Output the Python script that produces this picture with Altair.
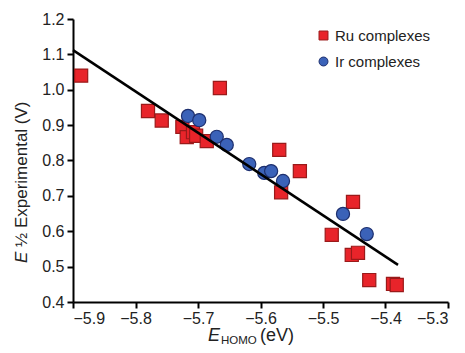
import altair as alt
import pandas as pd

# Data
ru_x = [-5.887, -5.780, -5.758, -5.725, -5.718, -5.708, -5.703, -5.686, -5.665,
        -5.570, -5.537, -5.567, -5.452, -5.486, -5.454, -5.444, -5.426, -5.388, -5.382]
ru_y = [1.040, 0.940, 0.913, 0.895, 0.866, 0.880, 0.870, 0.855, 1.005,
        0.830, 0.770, 0.710, 0.683, 0.590, 0.533, 0.539, 0.462, 0.451, 0.448]

ir_x = [-5.716, -5.698, -5.670, -5.654, -5.618, -5.594, -5.583, -5.564, -5.468, -5.430]
ir_y = [0.926, 0.914, 0.867, 0.844, 0.790, 0.765, 0.770, 0.742, 0.649, 0.592]

fit_x = [-5.90, -5.38]
fit_y = [1.112, 0.505]

series_names = ["Ru complexes", "Ir complexes"]
x_ticks = [-5.9, -5.8, -5.7, -5.6, -5.5, -5.4, -5.3]
y_ticks = [0.4, 0.5, 0.6, 0.7, 0.8, 0.9, 1.0, 1.1, 1.2]

FONT = "Liberation Sans"

pts = pd.DataFrame({
    "x": ru_x + ir_x,
    "y": ru_y + ir_y,
    "type": [series_names[0]] * len(ru_x) + [series_names[1]] * len(ir_x),
    "order": [0] * len(ru_x) + [1] * len(ir_x),
})
fit = pd.DataFrame({"x": fit_x, "y": fit_y})

xs = alt.Scale(domain=[-5.9, -5.3], nice=False, zero=False)
ys = alt.Scale(domain=[0.4, 1.2], nice=False, zero=False)

xaxis = alt.Axis(values=x_ticks, format=".1f", title=None, labelOverlap=False, tickCount=7,
                 labelPadding=2)
yaxis = alt.Axis(values=y_ticks, format=".1f", title=None, labelOverlap=False, tickCount=9)

leg = alt.Legend(title=None, orient="none", legendX=243, legendY=9)

points = alt.Chart(pts).mark_point(filled=True, opacity=1, strokeWidth=1.2, size=172).encode(
    x=alt.X("x:Q", scale=xs, axis=xaxis),
    y=alt.Y("y:Q", scale=ys, axis=yaxis),
    shape=alt.Shape("type:N", scale=alt.Scale(domain=series_names, range=["square", "circle"]),
                    legend=leg),
    fill=alt.Fill("type:N", scale=alt.Scale(domain=series_names, range=["#e8242a", "#3b62b8"]),
                  legend=leg),
    stroke=alt.Stroke("type:N", scale=alt.Scale(domain=series_names, range=["#9a1a1a", "#1d2f6e"]),
                      legend=leg),
    order=alt.Order("order:Q"),
)

line = alt.Chart(fit).mark_line(color="black", strokeWidth=2.5).encode(
    x=alt.X("x:Q", scale=xs, axis=xaxis), y=alt.Y("y:Q", scale=ys, axis=yaxis)
)

def txt(s, x, y, size=17, style="normal", angle=0, baseline="alphabetic"):
    return alt.Chart(pd.DataFrame({"t": [s]})).mark_text(
        font=FONT, fontSize=size, fontStyle=style, angle=angle, align="left",
        baseline=baseline, color="#222222"
    ).encode(text="t:N", x=alt.value(x), y=alt.value(y))

titles = [
    txt("E", 135, 322, size=18, style="italic"),
    txt("HOMO", 148, 325, size=11.5),
    txt("(eV)", 187, 322, size=18),
    txt("E", -46, 244, style="italic", angle=270),
    txt("\u00bd Experimental (V)", -46, 228, angle=270),
]

chart = alt.layer(points, line, *titles).properties(
    width=375, height=283,
    autosize=alt.AutoSizeParams(type="none"),
    padding={"left": 65, "top": 11, "right": 8, "bottom": 43},
).configure_view(stroke=None).configure_axis(
    grid=False, domainColor="black", domainWidth=2, tickColor="black", tickWidth=2,
    tickSize=6, labelFont=FONT, labelFontSize=16, labelColor="#222222", labelPadding=3,
).configure_legend(
    padding=0, labelFont=FONT, labelFontSize=15,
    labelColor="#222222", symbolSize=80, rowPadding=10, labelOffset=4, symbolStrokeWidth=1,
)

chart.save("out.html", embed_options={"renderer": "svg", "actions": False})
